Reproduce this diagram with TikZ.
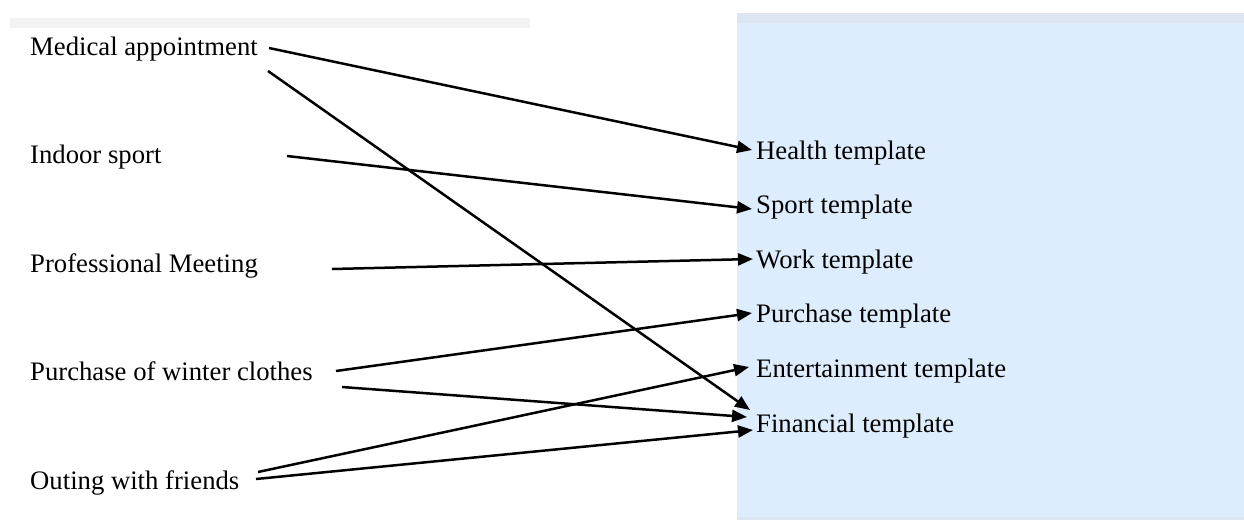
\documentclass[tikz,border=0pt]{standalone}
\usepackage{fontspec}
\setmainfont{Liberation Serif}
\usetikzlibrary{arrows.meta}
\definecolor{panelblue}{RGB}{221,237,253}
\definecolor{panelstrip}{RGB}{220,230,243}
\definecolor{bargray}{RGB}{242,242,242}
\begin{document}
\begin{tikzpicture}[x=1pt,y=-1pt,
  lbl/.style={inner sep=0pt,anchor=base west,font=\fontsize{26.7}{30}\selectfont},
  link/.style={line width=2.5pt,-{Triangle[length=15pt,width=12pt]}}]
\useasboundingbox (0,0) rectangle (1244,520);
% backgrounds
\fill[bargray] (10,18) rectangle (530,28);
\fill[panelblue] (737,13) rectangle (1244,520);
\fill[panelstrip] (737,13) rectangle (1244,23);
\fill[panelstrip] (737,517) rectangle (1244,520);
% left labels
\node[lbl] (med) at (30,55) {Medical appointment};
\node[lbl] (ind) at (30,163.5) {Indoor sport};
\node[lbl] (pro) at (30,272) {Professional Meeting};
\node[lbl] (pur) at (30,380.5) {Purchase of winter clothes};
\node[lbl] (out) at (30,489) {Outing with friends};
% right labels
\node[lbl] (hea) at (756,159) {Health template};
\node[lbl] (spo) at (756,213.6) {Sport template};
\node[lbl] (wor) at (756,268.2) {Work template};
\node[lbl] (ptp) at (756,322.8) {Purchase template};
\node[lbl] (ent) at (756,377.4) {Entertainment template};
\node[lbl] (fin) at (756,432) {Financial template};
% connectors
\draw[link] ([shift={(239,-7)}]med.base west) -- ([shift={(-4,-9)}]hea.base west);
\draw[link] ([shift={(238,16)}]med.base west) -- ([shift={(-6,-22)}]fin.base west);
\draw[link] ([shift={(257,-7.5)}]ind.base west) -- ([shift={(-4,-4.6)}]spo.base west);
\draw[link] ([shift={(302,-3)}]pro.base west) -- ([shift={(-3,-9.2)}]wor.base west);
\draw[link] ([shift={(306,-9.5)}]pur.base west) -- ([shift={(-4,-9.8)}]ptp.base west);
\draw[link] ([shift={(312,6.5)}]pur.base west) -- ([shift={(-9,-15)}]fin.base west);
\draw[link] ([shift={(228,-17)}]out.base west) -- ([shift={(-7,-10.4)}]ent.base west);
\draw[link] ([shift={(226,-10)}]out.base west) -- ([shift={(-3,-2)}]fin.base west);
\end{tikzpicture}
\end{document}
